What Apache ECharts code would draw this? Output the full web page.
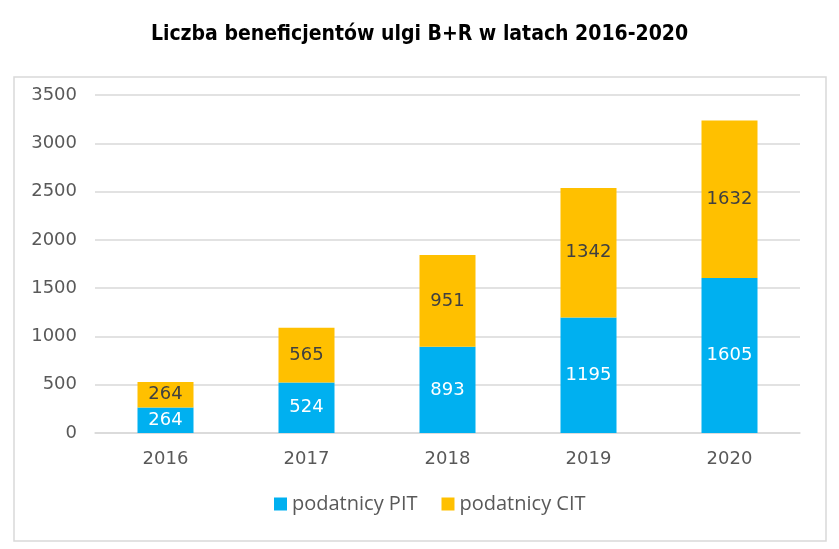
<!DOCTYPE html>
<html><head><meta charset="utf-8">
<script src="https://cdn.jsdelivr.net/npm/echarts@6/dist/echarts.min.js"></script>
<style>html,body{margin:0;padding:0;background:#fff}#c{width:839px;height:549px}</style>
</head><body><div id="c"></div>
<script>
const years = ['2016','2017','2018','2019','2020'];
const pit = [264, 524, 893, 1195, 1605];
const cit = [264, 565, 951, 1342, 1632];
const seriesNames = ['podatnicy PIT', 'podatnicy CIT'];
const titleText = 'Liczba beneficjentów ulgi B+R w latach 2016-2020';

const chart = echarts.init(document.getElementById('c'));
chart.setOption({
  animation: false,
  backgroundColor: '#fff',
  title: {
    text: titleText, left: 'center', top: 19,
    textStyle: {fontFamily: "'DejaVu Sans Condensed', 'Roboto Condensed', Roboto, sans-serif", fontWeight: 'bold', fontSize: 21, color: '#000'}
  },
  graphic: [{
    type: 'rect', shape: {x: 14, y: 77, width: 812, height: 464},
    style: {fill: 'none', stroke: '#d9d9d9', lineWidth: 1.5}, silent: true, z: -1
  }],
  legend: {
    bottom: 30, left: 269, itemWidth: 13, itemHeight: 13, itemGap: 24,
    icon: 'rect',
    textStyle: {fontFamily: 'Open Sans', fontSize: 20, color: '#595959'}
  },
  grid: {left: 95, right: 39, top: 95, bottom: 116},
  xAxis: {
    type: 'category', data: years,
    axisLine: {show: true, lineStyle: {color: '#d9d9d9', width: 1.5}},
    axisTick: {show: false},
    axisLabel: {fontFamily: 'DejaVu Sans', fontSize: 18, color: '#595959', margin: 17}
  },
  yAxis: {
    type: 'value', min: 0, max: 3500, interval: 500,
    axisLine: {show: false}, axisTick: {show: false},
    splitLine: {lineStyle: {color: '#d9d9d9', width: 1.5}},
    axisLabel: {fontFamily: 'DejaVu Sans', fontSize: 18, color: '#595959', margin: 18,
                formatter: v => String(v)}
  },
  series: [
    {name: seriesNames[0], type: 'bar', stack: 't', data: pit, barWidth: 56,
     itemStyle: {color: '#00B0F0'},
     label: {show: true, position: 'inside', color: '#fff', fontFamily: 'DejaVu Sans', fontSize: 18}},
    {name: seriesNames[1], type: 'bar', stack: 't', data: cit, barWidth: 56,
     itemStyle: {color: '#FFC000'},
     label: {show: true, position: 'inside', color: '#404040', fontFamily: 'DejaVu Sans', fontSize: 18}}
  ]
});
</script></body></html>
